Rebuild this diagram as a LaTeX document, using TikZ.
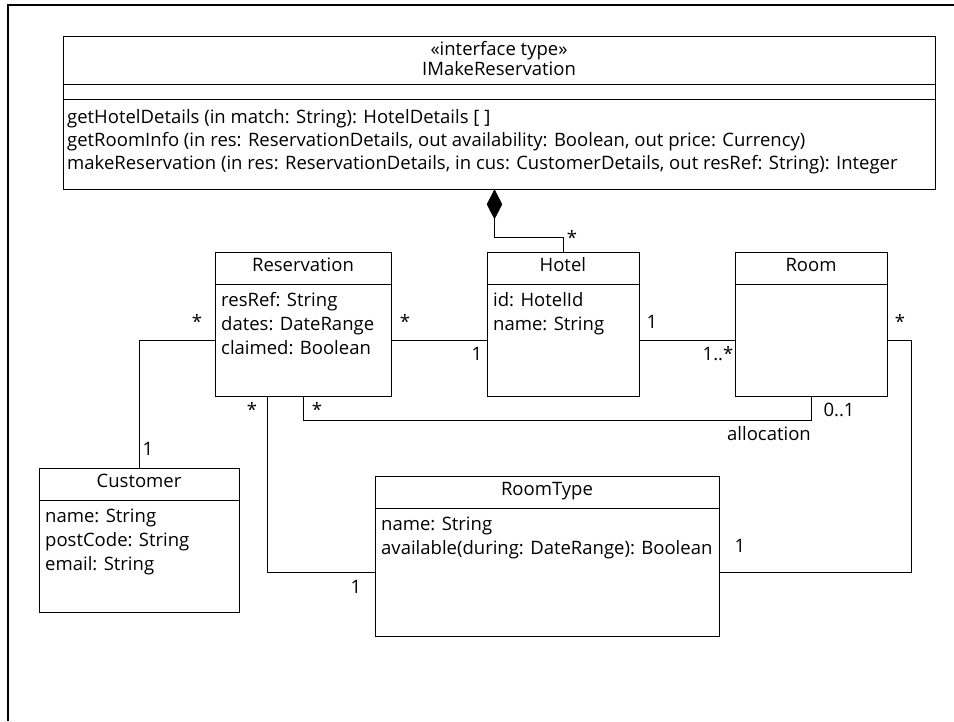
\documentclass[tikz,border=0pt]{standalone}
\usepackage{fontspec}
\setmainfont{Open Sans}
\usetikzlibrary{shapes.geometric}
\begin{document}
\begin{tikzpicture}[x=1pt,y=-1pt,
  box/.style={draw, line width=0.9pt, anchor=north west, inner sep=0pt},
  txt/.style={inner sep=0pt, text height=1.5ex, text depth=.25ex},
  lbl/.style={txt, anchor=west},
  conn/.style={line width=0.9pt},
  font=\fontsize{18.5}{22}\selectfont]
\useasboundingbox (0,0) rectangle (954,721);
\fill[white] (0,0) rectangle (954,721);
\draw[line width=2.5pt] (954,5) -- (8,5) -- (8,721);

% interface
\node[box, minimum width=872pt, minimum height=153pt] (iface) at (63,36) {};
\draw[conn] (63,84) -- (935,84);
\draw[conn] (63,99.5) -- (935,99.5);
\node[txt] (stereo) at (499,52) {«interface type»};
\node[txt] (iname) at (499,72) {IMakeReservation};
\node[lbl] (op1) at (67,120) {getHotelDetails (in match: String): HotelDetails [ ]};
\node[lbl] (op2) at (67,143) {getRoomInfo (in res: ReservationDetails, out availability: Boolean, out price: Currency)};
\node[lbl] (op3) at (67,166) {makeReservation (in res: ReservationDetails, in cus: CustomerDetails, out resRef: String): Integer};

% Reservation
\node[box, minimum width=176pt, minimum height=144pt] (res) at (215,252) {};
\draw[conn] (215,284) -- (391,284);
\node[txt] (rest) at (303,268) {Reservation};
\node[lbl] (resa1) at (221,303) {resRef: String};
\node[lbl] (resa2) at (221,327) {dates: DateRange};
\node[lbl] (resa3) at (221,351) {claimed: Boolean};

% Hotel
\node[box, minimum width=152.3pt, minimum height=144pt] (hotel) at (486.7,252) {};
\draw[conn] (486.7,284) -- (639,284);
\node[txt] (hott) at (562.85,268) {Hotel};
\node[lbl] (hota1) at (493,303) {id: HotelId};
\node[lbl] (hota2) at (493,327) {name: String};

% Room
\node[box, minimum width=152pt, minimum height=144pt] (room) at (735,252) {};
\draw[conn] (735,284) -- (887,284);
\node[txt] (roomt) at (811,268) {Room};

% Customer
\node[box, minimum width=200pt, minimum height=144pt] (cust) at (39,468) {};
\draw[conn] (39,500) -- (239,500);
\node[txt] (custt) at (139,484) {Customer};
\node[lbl] (custa1) at (45,519) {name: String};
\node[lbl] (custa2) at (45,543) {postCode: String};
\node[lbl] (custa3) at (45,567) {email: String};

% RoomType
\node[box, minimum width=344pt, minimum height=160pt] (rt) at (375,476) {};
\draw[conn] (375,508) -- (719,508);
\node[txt] (rtt) at (547,492) {RoomType};
\node[lbl] (rta1) at (381,527) {name: String};
\node[lbl] (rta2) at (381,551) {available(during: DateRange): Boolean};

% composition
\node[diamond, draw, fill=black, line width=0.6pt, minimum width=15pt, minimum height=29pt, inner sep=0pt, anchor=north] (dia) at (494.5,189.5) {};
\coordinate (cb) at (0,237);
\draw[conn] (dia.south) |- (hotel.north |- cb) -- (hotel.north);
\node[txt] (m0) at (572,241) {*};

% associations
\coordinate (y340) at (0,340);
\draw[conn] (res.west |- y340) -| (cust.north);
\draw[conn] (res.east |- y340) -- (hotel.west |- y340);
\draw[conn] (hotel.east |- y340) -- (room.west |- y340);
\coordinate (rr) at (911,572);
\draw[conn] (room.east |- y340) -| (rr) -- (rt.east |- rr);
\coordinate (rtb) at (267,572);
\draw[conn] (res.south -| rtb) -- (rtb) -- (rt.west |- rtb);
\coordinate (al) at (303,420);
\draw[conn] (res.south -| al) -- (al) -- (room.south |- al) -- (room.south);

% multiplicities
\node[txt] (m1) at (197,325) {*};
\node[txt] (m2) at (148,452) {1};
\node[txt] (m3) at (405,325) {*};
\node[txt] (m4) at (477,357) {1};
\node[txt] (m5) at (652,325) {1};
\node[txt] (m6) at (718,357) {1..*};
\node[txt] (m7) at (900,325) {*};
\node[txt] (m8) at (740,549) {1};
\node[txt] (m9) at (252,413) {*};
\node[txt] (m10) at (317,413) {*};
\node[txt] (m11) at (839,413) {0..1};
\node[txt] (alloc) at (769,437) {allocation};
\node[txt] (m12) at (356,590) {1};
\end{tikzpicture}
\end{document}
